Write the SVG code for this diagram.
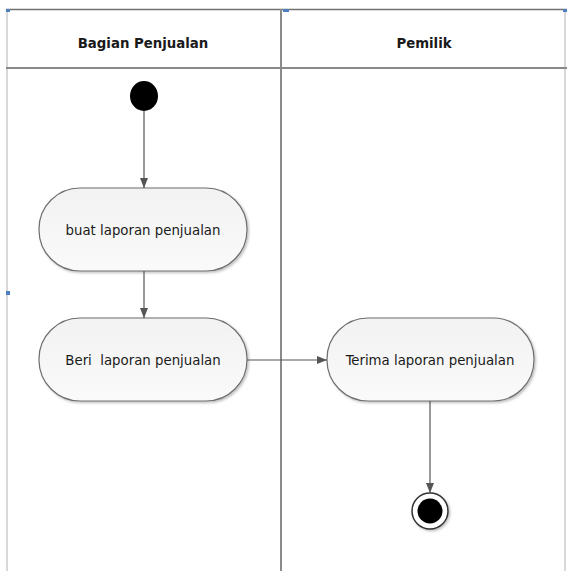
<svg xmlns="http://www.w3.org/2000/svg" width="567" height="571" viewBox="0 0 567 571">
<defs>
<linearGradient id="g" x1="0" y1="0" x2="0" y2="1">
<stop offset="0" stop-color="#f2f2f2"/><stop offset="1" stop-color="#fafafa"/>
</linearGradient>
<marker id="ah" viewBox="0 0 10 10" refX="10" refY="5" markerWidth="10" markerHeight="10" markerUnits="userSpaceOnUse" orient="auto">
<path d="M0,1 L10,5 L0,9 Z" fill="#555"/>
</marker>
<filter id="sh" x="-10%" y="-10%" width="130%" height="130%"><feDropShadow dx="1.5" dy="1.5" stdDeviation="1" flood-color="#000" flood-opacity="0.25"/></filter>
</defs>
<style>
.lane{stroke:#8a8a8a;stroke-width:2;fill:none}
.act{fill:url(#g);stroke:#6e6e6e;stroke-width:1.2;filter:url(#sh)}
.t{font-family:"DejaVu Sans Condensed","Liberation Sans",sans-serif;font-size:14.8px;fill:#1a1a1a;text-anchor:middle}
.h{font-family:"DejaVu Sans Condensed","Liberation Sans",sans-serif;font-size:14.8px;font-weight:bold;fill:#1a1a1a;text-anchor:middle}
.c{stroke:#555;stroke-width:1.2;fill:none;marker-end:url(#ah)}
.mk{fill:#4f7fbf}
</style>
<rect width="567" height="571" fill="#fff"/>
<g id="swimlanes">
<line x1="6" y1="9.5" x2="567" y2="9.5" stroke="#707070" stroke-width="1.5"/>
<line x1="7" y1="9" x2="7" y2="571" stroke="#d8d8d8" stroke-width="2"/>
<line x1="565" y1="9" x2="565" y2="571" stroke="#d8d8d8" stroke-width="2"/>
<line x1="6" y1="68" x2="567" y2="68" class="lane"/>
<line x1="281" y1="9" x2="281" y2="571" class="lane"/>
<rect class="mk" x="6" y="9" width="4" height="3"/>
<rect class="mk" x="283" y="9" width="6" height="3"/>
<rect class="mk" x="563" y="9" width="4" height="3"/>
<rect class="mk" x="6" y="291" width="4" height="4"/>
<text class="h" x="143" y="48">Bagian Penjualan</text>
<text class="h" x="424" y="48">Pemilik</text>
</g>
<g id="start"><ellipse cx="144" cy="96" rx="14" ry="15" fill="#000"/></g>
<g id="a1"><rect class="act" x="39" y="188" width="208" height="83" rx="41" ry="41"/><text class="t" x="143" y="235">buat laporan penjualan</text></g>
<g id="a2"><rect class="act" x="39" y="318" width="208" height="83" rx="41" ry="41"/><text class="t" x="143" y="365" xml:space="preserve">Beri  laporan penjualan</text></g>
<g id="a3"><rect class="act" x="327" y="318" width="207" height="83" rx="41" ry="41"/><text class="t" x="430" y="365">Terima laporan penjualan</text></g>
<g id="end"><circle cx="430" cy="511" r="18" fill="#fff" stroke="#333" stroke-width="1.5" filter="url(#sh)"/><circle cx="430" cy="511" r="12.5" fill="#000"/></g>
<g id="connectors">
<line class="c" x1="144" y1="111" x2="144" y2="188"/>
<line class="c" x1="144" y1="271" x2="144" y2="318"/>
<line class="c" x1="247" y1="360" x2="327" y2="360"/>
<line class="c" x1="430" y1="401" x2="430" y2="493"/>
</g>
</svg>
